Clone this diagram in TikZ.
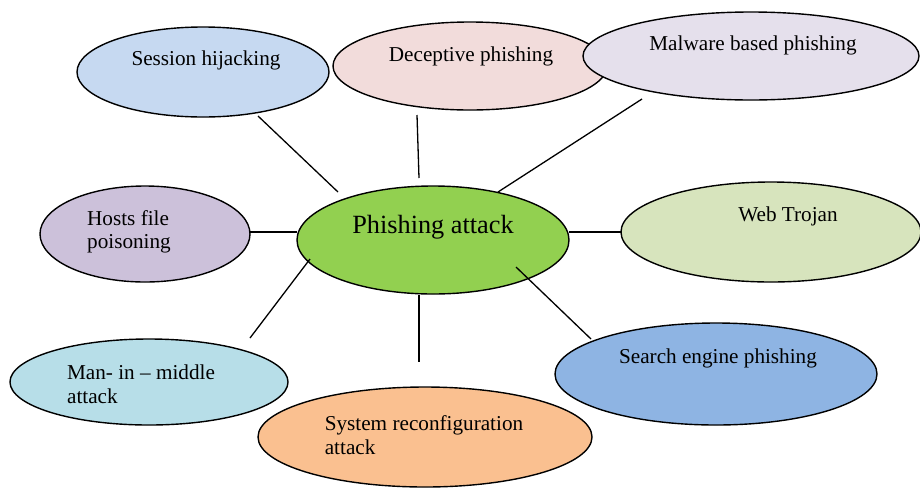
\documentclass[tikz,border=0pt]{standalone}
\usepackage{fontspec}
\setmainfont{Liberation Serif}
\usetikzlibrary{shapes.geometric,calc}
\definecolor{cSess}{HTML}{C6D9F1}
\definecolor{cDec}{HTML}{F2DCDB}
\definecolor{cMal}{HTML}{E5E0EC}
\definecolor{cHost}{HTML}{CCC1DA}
\definecolor{cPh}{HTML}{92D050}
\definecolor{cWeb}{HTML}{D7E4BD}
\definecolor{cMitm}{HTML}{B7DEE8}
\definecolor{cSys}{HTML}{FAC090}
\definecolor{cSrch}{HTML}{8EB4E3}
\tikzset{
  bubble/.style={ellipse, draw=black, line width=1.4pt, inner sep=0pt},
  txt/.style={font=\fontsize{21.2}{23.5}\selectfont, inner sep=0pt},
  conn/.style={draw=black, line width=1.3pt}
}
\begin{document}
\begin{tikzpicture}[x=1pt,y=-1pt]
\useasboundingbox (0,0) rectangle (920,488);
\node[bubble, fill=cSess, minimum width=252pt, minimum height=90pt,
  label={[txt, xshift=3pt, yshift=12pt]center:Session hijacking}] (sess) at (203,72) {};
\node[bubble, fill=cDec, minimum width=274pt, minimum height=88pt,
  label={[txt, xshift=1pt, yshift=10pt]center:Deceptive phishing}] (dec) at (470,66) {};
\node[bubble, fill=cMal, minimum width=336pt, minimum height=88pt,
  label={[txt, xshift=2pt, yshift=11pt]center:Malware based phishing}] (mal) at (751,56) {};
\node[bubble, fill=cHost, minimum width=210pt, minimum height=96pt,
  label={[txt, align=left, xshift=-16pt, yshift=2pt]center:Hosts file\\poisoning}] (hosts) at (145,234) {};
\node[bubble, fill=cPh, minimum width=272pt, minimum height=108pt,
  label={[inner sep=0pt, font=\fontsize{26.3}{30}\selectfont, yshift=13pt]center:Phishing attack}] (ph) at (433,240) {};
\node[bubble, fill=cWeb, minimum width=300pt, minimum height=100pt,
  label={[txt, xshift=17pt, yshift=16pt]center:Web Trojan}] (web) at (771,232) {};
\node[bubble, fill=cMitm, minimum width=278pt, minimum height=86pt,
  label={[txt, align=left, xshift=-8pt, yshift=-2pt]center:Man- in -- middle\\attack}] (mitm) at (149,382) {};
\node[bubble, fill=cSys, minimum width=334pt, minimum height=100pt,
  label={[txt, align=left, xshift=-1pt, yshift=2pt]center:System reconfiguration\\attack}] (sys) at (425,437) {};
\node[bubble, fill=cSrch, minimum width=322pt, minimum height=102pt,
  label={[txt, xshift=2pt, yshift=16pt]center:Search engine phishing}] (srch) at (716,374) {};
\draw[conn] ($(sess)+(55,44)$) -- ($(ph)+(-95,-48)$);
\draw[conn] ($(dec)+(-53,49)$) -- ($(ph)+(-14,-62)$);
\draw[conn] ($(mal)+(-109,43)$) -- ($(ph)+(65,-48)$);
\draw[conn] ($(hosts)+(105,-2)$) -- ($(ph)+(-136,-8)$);
\draw[conn] ($(ph)+(136,-8)$) -- ($(web)+(-150,0)$);
\draw[conn] ($(ph)+(-123,19)$) -- ($(mitm)+(101,-44)$);
\draw[conn] ($(ph)+(-14,55)$) -- ($(sys)+(-6,-75)$);
\draw[conn] ($(ph)+(83,27)$) -- ($(srch)+(-125,-35)$);
\end{tikzpicture}
\end{document}
